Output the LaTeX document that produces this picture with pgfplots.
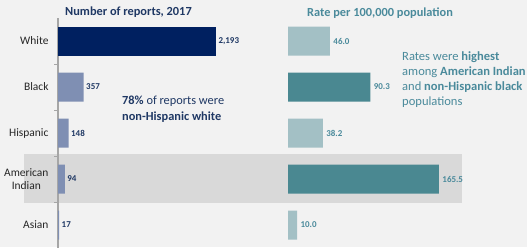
\documentclass[border=0pt]{standalone}
\usepackage{fontspec}
\setmainfont{Carlito}
\usepackage{pgfplots}
\pgfplotsset{compat=1.18}
\definecolor{bg}{HTML}{F2F2F2}
\definecolor{band}{HTML}{D9D9D9}
\definecolor{navy}{HTML}{002060}
\definecolor{navytxt}{HTML}{1F3864}
\definecolor{blueg}{HTML}{7F8FB3}
\definecolor{tealL}{HTML}{A3C0C5}
\definecolor{tealD}{HTML}{4A8891}
\definecolor{tealtxt}{HTML}{4A8A9B}
\definecolor{axgray}{HTML}{A6A6A6}
\begin{document}
\begin{tikzpicture}[x=1bp,y=1bp]
\fill[bg] (0,0) rectangle (527,247);
\useasboundingbox (0,0) rectangle (527,247);
\fill[band] (24,44) rectangle (462,93);
% left panel
\begin{axis}[
  at={(58bp,-1bp)}, anchor=south west,
  width=212bp, height=230bp, scale only axis,
  xmin=0, xmax=2942, ymin=-0.5, ymax=4.5, y dir=reverse,
  xbar, bar width=29bp, bar shift=0pt,
  axis x line=none, axis y line=left,
  y axis line style={-, draw=axgray, line width=1.6bp},
  ytick={0,1,2,3,4},
  yticklabels={White,Black,Hispanic,{American\\Indian},Asian},
  yticklabel style={align=center, font=\fontsize{11.5}{13.5}\selectfont, text=black!85, xshift=-6bp},
  major tick length=0pt,
  minor ytick={0.5,1.5,2.5,3.5},
  minor tick length=4bp, tick align=outside,
  minor tick style={draw=axgray, line width=1bp},
  clip=false,
  /pgf/number format/assume math mode=true,
  nodes near coords={\pgfmathprintnumber[1000 sep={,}]{\pgfplotspointmeta}},
  nodes near coords style={font=\fontsize{9}{10}\selectfont\bfseries, text=navytxt, anchor=west, xshift=-1bp},
]
\addplot[fill=navy, draw=none] coordinates {(2193,0)};
\addplot[fill=blueg, draw=none] coordinates {(357,1) (148,2) (94,3) (17,4)};
\end{axis}
% right panel
\begin{axis}[
  at={(288bp,-1bp)}, anchor=south west,
  width=200bp, height=230bp, scale only axis,
  xmin=0, xmax=219.3, ymin=-0.5, ymax=4.5, y dir=reverse,
  xbar, bar width=29bp, bar shift=0pt,
  hide axis, clip=false,
  /pgf/number format/assume math mode=true,
  nodes near coords={\pgfmathprintnumber[fixed, fixed zerofill, precision=1]{\pgfplotspointmeta}},
  nodes near coords style={font=\fontsize{9}{10}\selectfont\bfseries, text=tealtxt, anchor=west, xshift=0bp},
]
\addplot[fill=tealL, draw=none] coordinates {(46.0,0) (38.2,2) (10.0,4)};
\addplot[fill=tealD, draw=none] coordinates {(90.3,1) (165.5,3)};
\end{axis}
% titles
\node[anchor=west, inner sep=0pt, text=navytxt, font=\fontsize{12.4}{14}\selectfont\bfseries] at (65,235) {Number of reports, 2017};
\node[anchor=west, inner sep=0pt, text=tealtxt, font=\fontsize{12.4}{14}\selectfont\bfseries] at (307,234) {Rate per 100,000 population};
% annotations
\node[anchor=west, inner sep=0pt, text=navytxt, font=\fontsize{12.4}{14}\selectfont] at (122,146) {\textbf{78\%} of reports were};
\node[anchor=west, inner sep=0pt, text=navytxt, font=\fontsize{12.4}{14}\selectfont\bfseries] at (122,130) {non-Hispanic white};
\node[anchor=west, inner sep=0pt, text=tealtxt, font=\fontsize{12.6}{14}\selectfont] at (402,190) {Rates were \textbf{highest}};
\node[anchor=west, inner sep=0pt, text=tealtxt, font=\fontsize{12.6}{14}\selectfont] at (402,175) {among \textbf{American Indian}};
\node[anchor=west, inner sep=0pt, text=tealtxt, font=\fontsize{12.6}{14}\selectfont] at (402,160) {and \textbf{non-Hispanic black}};
\node[anchor=west, inner sep=0pt, text=tealtxt, font=\fontsize{12.6}{14}\selectfont] at (402,145) {populations};
\end{tikzpicture}
\end{document}
